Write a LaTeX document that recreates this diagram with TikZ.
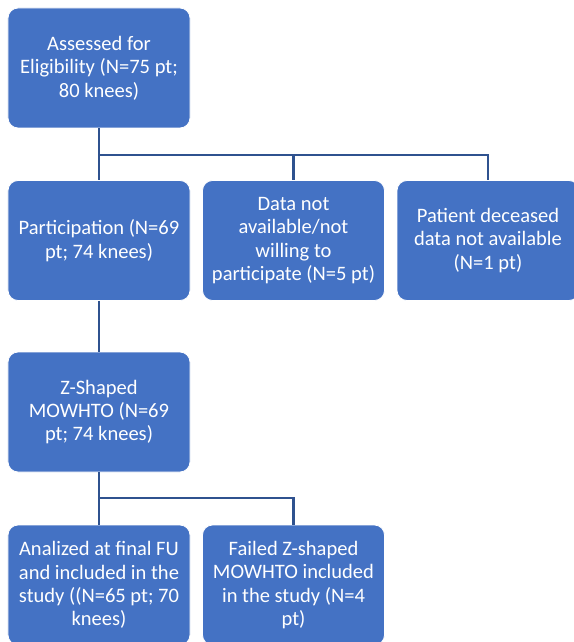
\documentclass[tikz,border=0pt]{standalone}
\usepackage{fontspec}
\setmainfont{Carlito}
\definecolor{boxfill}{HTML}{4472C4}
\definecolor{linec}{HTML}{2F528F}
\begin{document}
\begin{tikzpicture}[x=1bp,y=-1bp,
  box/.style={draw=white, line width=0.8bp, fill=boxfill, rounded corners=10bp,
    minimum width=182bp, minimum height=120bp, text=white, align=center,
    font=\fontsize{20.6}{23.4}\selectfont, inner sep=0pt},
  conn/.style={draw=linec, line width=2.8bp}]
\useasboundingbox (0,0) rectangle (574,642);
\fill[white] (0,0) rectangle (574,642);
\clip (0,0) rectangle (574,642);
\node[box] (elig) at (99,68) {Assessed for\\Eligibility (N=75 pt;\\80 knees)};
\node[box] (part) at (99,240.5) {Participation (N=69\\pt; 74 knees)};
\node[box] (nda) at (293.5,240.5) {Data not\\available/not\\willing to\\participate (N=5 pt)};
\node[box] (dec) at (488,240.5) {Patient deceased\\data not available\\(N=1 pt)};
\node[box] (z) at (99,412) {Z-Shaped\\MOWHTO (N=69\\pt; 74 knees)};
\node[box] (anal) at (99,585) {Analized at final FU\\and included in the\\study ((N=65 pt; 70\\knees)};
\node[box] (fail) at (293.5,585) {Failed Z-shaped\\MOWHTO included\\in the study (N=4\\pt)};
\coordinate (j1) at (99,155);
\coordinate (j2) at (99,498);
\draw[conn] (elig.south) -- (j1) -- (part.north);
\draw[conn] (j1) -| (nda.north);
\draw[conn] (j1) -| (dec.north);
\draw[conn] (part.south) -- (z.north);
\draw[conn] (z.south) -- (j2) -- (anal.north);
\draw[conn] (j2) -| (fail.north);
\end{tikzpicture}
\end{document}
